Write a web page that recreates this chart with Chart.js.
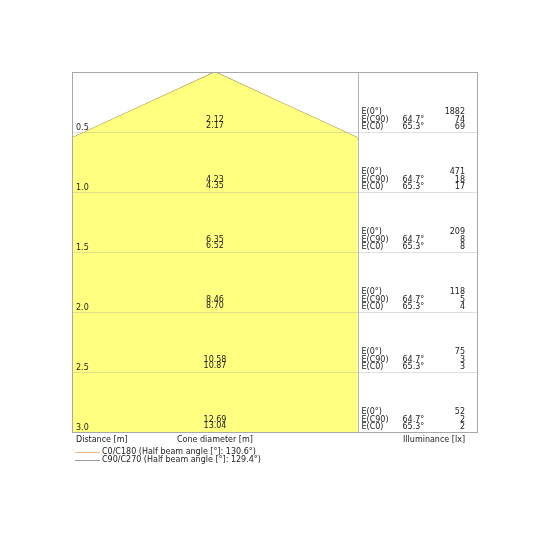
<!DOCTYPE html>
<html>
<head>
<meta charset="utf-8">
<script src="https://cdn.jsdelivr.net/npm/chart.js@4/dist/chart.umd.min.js"></script>
<style>
  html, body { margin: 0; padding: 0; background: #fff; }
</style>
</head>
<body>
<canvas id="cone" width="540" height="540"></canvas>
<script>
// distances of the rows [m]
const distances = [0.5, 1.0, 1.5, 2.0, 2.5, 3.0];
// cone diameters C90 / C0 [m]
const diamC90 = ["2.12", "4.23", "6.35", "8.46", "10.58", "12.69"];
const diamC0 = ["2.17", "4.35", "6.52", "8.70", "10.87", "13.04"];
// illuminance [lx]
const eCenter = [1882, 471, 209, 118, 75, 52];
const eC90 = [74, 18, 8, 5, 3, 2];
const eC0 = [69, 17, 8, 4, 3, 2];
const angleC90 = "64.7°";
const angleC0 = "65.3°";

// cone edges (x = half width [m], y = distance [m])
const edgeC0 = [{x: -1.19, y: 0.548}, {x: 0, y: 0}, {x: 1.19, y: 0.548}];
const edgeC90 = [{x: -1.19, y: 0.563}, {x: 0, y: 0}, {x: 1.19, y: 0.563}];

const legendLabels = [
    "C0/C180 (Half beam angle [°]: 130.6°)",
    "C90/C270 (Half beam angle [°]: 129.4°)"
];

const FONT = "8px 'DejaVu Sans'";
const TXT = "#222";

const textPlugin = {
    id: "coneText",
    afterDatasetsDraw(chart) {
        const c = chart.ctx;
        const a = chart.chartArea;
        const ys = chart.scales.y;
        c.save();
        // row lines, drawn over the cone
        c.strokeStyle = "rgba(150,150,150,0.3)";
        c.lineWidth = 1;
        distances.forEach(d => {
            const y = Math.round(ys.getPixelForValue(d)) + 0.5;
            c.beginPath();
            c.moveTo(a.left, y);
            c.lineTo(a.right, y);
            c.stroke();
        });
        c.restore();
    },
    afterDraw(chart) {
        const c = chart.ctx;
        const a = chart.chartArea;
        const xs = chart.scales.x, ys = chart.scales.y;
        c.save();
        // divider + frame
        c.strokeStyle = "#b4b4b4";
        c.lineWidth = 1;
        const xd = Math.round(xs.getPixelForValue(1.19)) + 0.5;
        c.beginPath();
        c.moveTo(xd, a.top);
        c.lineTo(xd, a.bottom);
        c.stroke();
        c.strokeStyle = "#a8a8a8";
        c.strokeRect(a.left + 0.5, a.top + 0.5, a.right - a.left - 1, a.bottom - a.top);

        c.font = FONT;
        c.fillStyle = TXT;
        c.textBaseline = "alphabetic";
        const xc = xs.getPixelForValue(0);
        distances.forEach((d, i) => {
            const y = ys.getPixelForValue(d);
            c.textAlign = "left";
            c.fillText(d.toFixed(1), a.left + 4, y - 2);
            c.textAlign = "center";
            c.fillText(diamC90[i], xc, y - 10);
            c.fillText(diamC0[i], xc, y - 4);
            c.textAlign = "left";
            c.fillText("E(0°)", xd + 3, y - 18);
            c.fillText("E(C90)", xd + 3, y - 10.5);
            c.fillText("E(C0)", xd + 3, y - 3);
            c.fillText(angleC90, xd + 44, y - 10.5);
            c.fillText(angleC0, xd + 44, y - 3);
            c.textAlign = "right";
            c.fillText(String(eCenter[i]), a.right - 13, y - 18);
            c.fillText(String(eC90[i]), a.right - 13, y - 10.5);
            c.fillText(String(eC0[i]), a.right - 13, y - 3);
        });

        // axis captions
        c.textAlign = "left";
        c.fillText("Distance [m]", a.left + 4, a.bottom + 10);
        c.fillText("Cone diameter [m]", 177, a.bottom + 10);
        c.textAlign = "right";
        c.fillText("Illuminance [lx]", a.right - 13, a.bottom + 10);

        // legend
        const legColors = ["#f2b98a", "#9a9a9a"];
        legendLabels.forEach((t, i) => {
            const y = a.bottom + 20 + i * 8;
            c.strokeStyle = legColors[i];
            c.beginPath();
            c.moveTo(a.left + 3, y + 0.5);
            c.lineTo(a.left + 28, y + 0.5);
            c.stroke();
            c.textAlign = "left";
            c.textBaseline = "middle";
            c.fillText(t, a.left + 30, y);
        });
        c.restore();
    }
};

new Chart(document.getElementById("cone"), {
    type: "scatter",
    data: {
        datasets: [
            {
                label: "fill",
                data: edgeC0,
                showLine: true,
                pointRadius: 0,
                borderWidth: 0,
                borderColor: "rgba(0,0,0,0)",
                backgroundColor: "rgb(255,255,128)",
                fill: {value: 3}
            },
            {
                label: "C0/C180",
                data: edgeC0,
                showLine: true,
                pointRadius: 0,
                borderWidth: 1,
                borderColor: "#9c8a3c"
            },
            {
                label: "C90/C270",
                data: edgeC90,
                showLine: true,
                pointRadius: 0,
                borderWidth: 1,
                borderColor: "rgba(100,100,60,0.85)"
            }
        ]
    },
    options: {
        responsive: false,
        animation: false,
        layout: { padding: { left: 72, right: 62, top: 72, bottom: 108 } },
        plugins: { legend: { display: false }, tooltip: { enabled: false } },
        scales: {
            x: { type: "linear", min: -1.1917, max: 2.1917, display: false },
            y: {
                type: "linear",
                reverse: true,
                min: 0,
                max: 3,
                display: false
            }
        }
    },
    plugins: [textPlugin]
});
</script>
</body>
</html>
